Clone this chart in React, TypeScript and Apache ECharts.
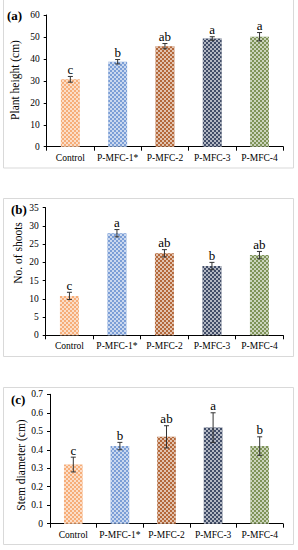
import React, { useEffect, useRef } from "react";
import * as echarts from "echarts";

const categories = ["Control", "P-MFC-1*", "P-MFC-2", "P-MFC-3", "P-MFC-4"];

const heightValues = [30.7, 38.7, 45.8, 49.3, 50.1];
const heightErrors = [1.3, 1.0, 1.2, 0.8, 1.9];
const heightLetters = ["c", "b", "ab", "a", "a"];

const shootValues = [10.8, 28.0, 22.5, 19.0, 22.0];
const shootErrors = [1.0, 1.0, 1.0, 1.0, 1.0];
const shootLetters = ["c", "a", "ab", "b", "ab"];

const diameterValues = [0.32, 0.42, 0.47, 0.52, 0.42];
const diameterErrors = [0.04, 0.02, 0.06, 0.08, 0.05];
const diameterLetters = ["c", "b", "ab", "a", "b"];

const heightTicks = { min: 0, max: 60, interval: 10 };
const shootTicks = { min: 0, max: 35, interval: 5 };
const diameterTicks = { min: 0, max: 0.7, interval: 0.1 };

const barColors = ["#F6AD78", "#7B9ED6", "#B4683A", "#414D68", "#7E9357"];

const SERIF = "'Liberation Serif', 'Times New Roman', serif";

const panels = [
  {
    tag: "(a)",
    title: "Plant height (cm)",
    values: heightValues,
    errors: heightErrors,
    letters: heightLetters,
    ticks: heightTicks,
    grid: { left: 46.7, top: 15, width: 236.5, height: 131.7 },
    frame: { x: 3.5, y: -1, w: 290, h: 169 },
    tagPos: { x: 7, y: 15 },
    titlePos: { x: 15, y: 80 },
    fmt: (v: number) => String(v),
  },
  {
    tag: "(b)",
    title: "No. of shoots",
    values: shootValues,
    errors: shootErrors,
    letters: shootLetters,
    ticks: shootTicks,
    grid: { left: 45.7, top: 207.7, width: 237.5, height: 127.6 },
    frame: { x: 3.5, y: 198.5, w: 290, h: 158 },
    tagPos: { x: 11, y: 209 },
    titlePos: { x: 18, y: 253 },
    fmt: (v: number) => String(v),
  },
  {
    tag: "(c)",
    title: "Stem diameter (cm)",
    values: diameterValues,
    errors: diameterErrors,
    letters: diameterLetters,
    ticks: diameterTicks,
    grid: { left: 50, top: 394.3, width: 233, height: 129.4 },
    frame: { x: 3.5, y: 387.5, w: 290, h: 157 },
    tagPos: { x: 11, y: 399 },
    titlePos: { x: 20.5, y: 465 },
    fmt: (v: number) => (v === 0 ? "0" : v.toFixed(1)),
  },
];

const decal = {
  symbol: "rect",
  symbolSize: 1,
  color: "rgba(255,255,255,0.6)",
  dashArrayX: [[2, 2], [0, 2, 2, 0]],
  dashArrayY: [2, 0],
  rotation: 0,
};

export default function App() {
  const ref = useRef<HTMLDivElement>(null);

  useEffect(() => {
    if (!ref.current) return;
    const chart = echarts.init(ref.current, null, { renderer: "svg" });

    const grids: any[] = [];
    const xAxes: any[] = [];
    const yAxes: any[] = [];
    const series: any[] = [];
    const graphics: any[] = [];

    panels.forEach((p, i) => {
      grids.push({ ...p.grid, containLabel: false });
      xAxes.push({
        type: "category",
        gridIndex: i,
        data: categories,
        boundaryGap: true,
        axisLine: { show: true, lineStyle: { color: "#000", width: 1 } },
        axisTick: { show: true, length: 4, lineStyle: { color: "#000" } },
        axisLabel: {
          color: "#000",
          fontFamily: SERIF,
          fontSize: 9.5,
          margin: 6,
          interval: 0,
        },
        splitLine: { show: false },
      });
      yAxes.push({
        type: "value",
        gridIndex: i,
        min: p.ticks.min,
        max: p.ticks.max,
        interval: p.ticks.interval,
        axisLine: { show: true, lineStyle: { color: "#000", width: 1 } },
        axisTick: { show: true, length: 3, lineStyle: { color: "#000" } },
        axisLabel: {
          color: "#000",
          fontFamily: SERIF,
          fontSize: 9.5,
          margin: 7,
          formatter: p.fmt,
        },
        splitLine: { show: false },
      });
      series.push({
        type: "bar",
        xAxisIndex: i,
        yAxisIndex: i,
        barWidth: "40%",
        data: p.values.map((v, k) => ({
          value: v,
          itemStyle: { color: barColors[k], decal },
        })),
      });
      series.push({
        type: "custom",
        xAxisIndex: i,
        yAxisIndex: i,
        z: 10,
        data: p.values.map((v, k) => [k, v, p.errors[k]]),
        renderItem: (params: any, api: any) => {
          const k = api.value(0);
          const v = api.value(1);
          const e = api.value(2);
          const letter = p.letters[k];
          const top = api.coord([k, v + e]);
          const bot = api.coord([k, v - e]);
          const cap = 2.5;
          const st = { stroke: "#333", lineWidth: 1 };
          return {
            type: "group",
            children: [
              { type: "line", shape: { x1: top[0], y1: top[1], x2: bot[0], y2: bot[1] }, style: st },
              { type: "line", shape: { x1: top[0] - cap, y1: top[1], x2: top[0] + cap, y2: top[1] }, style: st },
              { type: "line", shape: { x1: bot[0] - cap, y1: bot[1], x2: bot[0] + cap, y2: bot[1] }, style: st },
              {
                type: "text",
                x: top[0],
                y: top[1] - 0.5,
                style: {
                  text: letter,
                  fill: "#000",
                  fontFamily: SERIF,
                  fontSize: 13,
                  align: "center",
                  verticalAlign: "bottom",
                },
              },
            ],
          };
        },
      });
      graphics.push({
        type: "rect",
        shape: { x: p.frame.x, y: p.frame.y, width: p.frame.w, height: p.frame.h },
        style: { fill: "none", stroke: "#D9D9D9", lineWidth: 1 },
        z: -1,
      });
      graphics.push({
        type: "text",
        x: p.tagPos.x,
        y: p.tagPos.y,
        style: {
          text: p.tag,
          fill: "#000",
          fontFamily: SERIF,
          fontWeight: "bold",
          fontSize: 13,
          align: "left",
          verticalAlign: "middle",
        },
      });
      graphics.push({
        type: "text",
        x: p.titlePos.x,
        y: p.titlePos.y,
        rotation: Math.PI / 2,
        style: {
          text: p.title,
          fill: "#000",
          fontFamily: SERIF,
          fontSize: 11.5,
          align: "center",
          verticalAlign: "middle",
        },
      });
    });

    chart.setOption({
      animation: false,
      backgroundColor: "#fff",
      grid: grids,
      xAxis: xAxes,
      yAxis: yAxes,
      series,
      graphic: graphics,
    });

    return () => chart.dispose();
  }, []);

  return (
    <div
      ref={ref}
      style={{ position: "fixed", left: 0, top: 0, width: 298, height: 550, background: "#fff" }}
    />
  );
}
